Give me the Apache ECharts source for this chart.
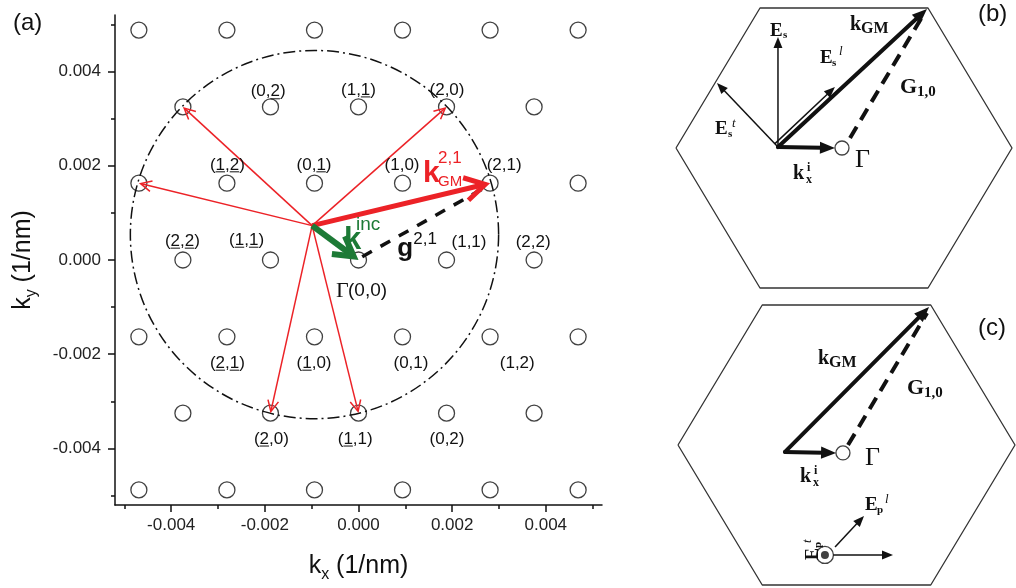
<!DOCTYPE html>
<html>
<head>
<meta charset="utf-8">
<script src="https://cdn.jsdelivr.net/npm/echarts@6/dist/echarts.min.js"></script>
<style>
  html, body { margin: 0; padding: 0; background: #fff; }
  #chart { width: 1016px; height: 588px; }
</style>
</head>
<body>
<div id="chart"></div>
<script>
const FONT = '"Liberation Sans", Arial, sans-serif';
const SERIF = '"Liberation Serif", "Times New Roman", serif';
const RED = '#ec2227';
const GREEN = '#1d7a36';
const INK = '#111';

// ---------- (a) reciprocal lattice, units 1/nm ----------
const xMajorTicks = [-0.004, -0.002, 0, 0.002, 0.004];
const xMinorTicks = [-0.005, -0.003, -0.001, 0.001, 0.003, 0.005];
const yMajorTicks = [-0.004, -0.002, 0, 0.002, 0.004];
const yMinorTicks = [-0.005, -0.003, -0.001, 0.001, 0.003, 0.005];

const latticePoints = [
  [-0.00469, 0.00488], [-0.00281, 0.00488], [-0.00094, 0.00488], [0.00094, 0.00488], [0.00281, 0.00488], [0.00469, 0.00488],
  [-0.00375, 0.00325], [-0.00188, 0.00325], [0, 0.00325], [0.00188, 0.00325], [0.00375, 0.00325],
  [-0.00469, 0.00163], [-0.00281, 0.00163], [-0.00094, 0.00163], [0.00094, 0.00163], [0.00281, 0.00163], [0.00469, 0.00163],
  [-0.00375, 0], [-0.00188, 0], [0, 0], [0.00188, 0], [0.00375, 0],
  [-0.00469, -0.00163], [-0.00281, -0.00163], [-0.00094, -0.00163], [0.00094, -0.00163], [0.00281, -0.00163], [0.00469, -0.00163],
  [-0.00375, -0.00325], [-0.00188, -0.00325], [0, -0.00325], [0.00188, -0.00325], [0.00375, -0.00325],
  [-0.00469, -0.00488], [-0.00281, -0.00488], [-0.00094, -0.00488], [0.00094, -0.00488], [0.00281, -0.00488], [0.00469, -0.00488]
];

// lattice index labels: [kx, ky, text]; U+0332 underlines the preceding digit (negative index)
const indexLabels = [
  [-0.00193, 0.00357, '(0,2\u0332)'],
  [0, 0.00361, '(1,1\u0332)'],
  [0.00189, 0.00361, '(2,0)'],
  [-0.00280, 0.00202, '(1\u0332,2\u0332)'],
  [-0.00095, 0.00202, '(0,1\u0332)'],
  [0.00093, 0.00202, '(1,0)'],
  [0.00311, 0.00202, '(2,1)'],
  [-0.00376, 0.00040, '(2\u0332,2\u0332)'],
  [-0.00239, 0.00042, '(1\u0332,1\u0332)'],
  [0.00236, 0.00038, '(1,1)'],
  [0.00373, 0.00038, '(2,2)'],
  [-0.00280, -0.00219, '(2\u0332,1\u0332)'],
  [-0.00095, -0.00219, '(1\u0332,0)'],
  [0.00112, -0.00219, '(0,1)'],
  [0.00339, -0.00219, '(1,2)'],
  [-0.00186, -0.00380, '(2\u0332,0)'],
  [-0.00007, -0.00380, '(1\u0332,1)'],
  [0.00189, -0.00380, '(0,2)']
];

const incidentTail = [-0.00099, 0.00073];
const gammaPoint = [0, 0];
const diffractedTips = [
  [-0.00469, 0.00163], [-0.00375, 0.00325], [0.00188, 0.00325],
  [-0.00188, -0.00325], [0, -0.00325]
];
const kgmTip = [0.00281, 0.00163];
const g21Line = [0.00008, 0.00007, 0.00274, 0.00156];
const ewaldCenter = [-0.00094, 0.00054];
const ewaldRadius = 0.00392;

const mainNotes = [
  ['kInc', -0.00031, 0.00041],
  ['kGM21', 0.00138, 0.00183],
  ['g21', 0.00083, 0.00024],
  ['gamma00', -0.00048, -0.00066]
];

// ---------- (b), (c) Brillouin-zone sketches, hexagon half-width = 1 ----------
const hexagon = [[-1, 0], [-0.5, 0.866], [0.5, 0.866], [1, 0], [0.5, -0.866], [-0.5, -0.866], [-1, 0]];

const gammaB = [-0.012, 0];
const thickArrowsB = [[-0.393, 0.006, 0.494, 0.86], [-0.393, 0.006, -0.054, 0.0]];
const thinArrowsB = [[-0.393, 0.006, -0.393, 0.686], [-0.393, 0.006, -0.756, 0.402], [-0.411, 0.027, -0.054, 0.377]];
const dashB = [[0.036, 0.062, 0.482, 0.841]];
const notesB = [
  ['Es', -0.44, 0.724], ['kGM', 0.036, 0.761], ['Esl', -0.143, 0.557], ['G10', 0.333, 0.377],
  ['Est', -0.768, 0.114], ['Gamma', 0.065, -0.074], ['kix', -0.304, -0.158]
];

const gammaC = [-0.021, -0.049];
const polDotC = [-0.128, -0.680];
const thickArrowsC = [[-0.365, -0.043, 0.49, 0.853], [-0.365, -0.043, -0.062, -0.049]];
const thinArrowsC = [[-0.080, -0.680, 0.276, -0.680], [-0.068, -0.631, 0.104, -0.439]];
const dashC = [[0.009, 0.0, 0.478, 0.816]];
const notesC = [
  ['kGM', -0.169, 0.535], ['G10', 0.359, 0.352], ['Gamma', 0.110, -0.080],
  ['kix', -0.276, -0.198], ['Epl', 0.110, -0.374], ['Ept', -0.195, -0.711]
];

// ---------- text styles for annotations ----------
const sansB = (s) => `bold ${s}px ${FONT}`;
const sans = (s) => `${s}px ${FONT}`;
const serB = (s) => `bold ${s}px ${SERIF}`;
const serI = (s) => `italic ${s}px ${SERIF}`;
const ser = (s) => `${s}px ${SERIF}`;

const NOTE_STYLES = {
  kInc: { parts: [
    { t: 'k', font: sansB(31), fill: GREEN },
    { t: 'inc', font: sans(19), fill: GREEN, dx: 12, dy: -16 }] },
  kGM21: { parts: [
    { t: 'k', font: sansB(30), fill: RED },
    { t: '2,1', font: sans(17), fill: RED, dx: 15, dy: -15 },
    { t: 'GM', font: sans(15), fill: RED, dx: 15, dy: 8 }] },
  g21: { parts: [
    { t: 'g', font: sansB(26) },
    { t: '2,1', font: sans(17), dx: 16, dy: -9 }] },
  gamma00: { parts: [
    { t: 'Γ', font: ser(22) },
    { t: '(0,0)', font: sans(19), dx: 12 }] },
  Es: { parts: [
    { t: 'E', font: serB(19) },
    { t: 's', font: serB(11), dx: 13, dy: 4 }] },
  kGM: { parts: [
    { t: 'k', font: serB(20) },
    { t: 'GM', font: serB(16), dx: 11, dy: 4 }] },
  Esl: { parts: [
    { t: 'E', font: serB(19) },
    { t: 's', font: serB(11), dx: 12, dy: 5 },
    { t: 'l', font: serI(13), dx: 19, dy: -6 }] },
  G10: { parts: [
    { t: 'G', font: serB(22) },
    { t: '1,0', font: serB(15), dx: 17, dy: 5 }] },
  Est: { parts: [
    { t: 'E', font: serB(19) },
    { t: 's', font: serB(11), dx: 13, dy: 5 },
    { t: 't', font: serI(13), dx: 17, dy: -6 }] },
  Gamma: { parts: [{ t: 'Γ', font: ser(26) }] },
  kix: { parts: [
    { t: 'k', font: serB(20) },
    { t: 'i', font: serB(12), dx: 14, dy: -6 },
    { t: 'x', font: serB(12), dx: 13, dy: 6 }] },
  Epl: { parts: [
    { t: 'E', font: serB(19) },
    { t: 'p', font: serB(11), dx: 12, dy: 5 },
    { t: 'l', font: serI(13), dx: 20, dy: -6 }] },
  Ept: { rotate: Math.PI / 2, parts: [
    { t: 'E', font: serB(18) },
    { t: 'p', font: serB(11), dx: 12, dy: 5 },
    { t: 't', font: serI(13), dx: 17, dy: -6 }] }
};

// ---------- drawing helpers ----------
const measureCtx = document.createElement('canvas').getContext('2d');
function textWidth(t, font) { measureCtx.font = font; return measureCtx.measureText(t).width; }

function arrowShape(a, b, st) {
  const dx = b[0] - a[0], dy = b[1] - a[1];
  const L = Math.hypot(dx, dy) || 1, ux = dx / L, uy = dy / L;
  const children = [];
  if (!st.head) {
    children.push({ type: 'line', shape: { x1: a[0], y1: a[1], x2: b[0], y2: b[1] },
      style: { stroke: st.color, lineWidth: st.width, lineDash: st.dash || null, lineCap: 'butt' } });
    return { type: 'group', children };
  }
  const sp = st.spread * Math.PI / 180;
  let tip = b;
  if (st.open) {
    const back = (st.width / 2) / Math.sin(sp);
    tip = [b[0] - ux * back, b[1] - uy * back];
  }
  const bx = tip[0] - ux * st.head, by = tip[1] - uy * st.head;
  const w = st.head * Math.tan(sp);
  const left = [bx - uy * w, by + ux * w], right = [bx + uy * w, by - ux * w];
  const shaftEnd = st.open ? [tip[0] - ux * st.width * 0.6, tip[1] - uy * st.width * 0.6]
                           : [bx + ux * 2, by + uy * 2];
  children.push({ type: 'line', shape: { x1: a[0], y1: a[1], x2: shaftEnd[0], y2: shaftEnd[1] },
    style: { stroke: st.color, lineWidth: st.width, lineCap: st.cap || 'butt' } });
  if (st.open) {
    children.push({ type: 'polyline', shape: { points: [left, tip, right] },
      style: { stroke: st.color, lineWidth: st.width, lineJoin: 'miter', miterLimit: 10, lineCap: 'butt', fill: null } });
  } else {
    children.push({ type: 'polygon', shape: { points: [left, b, right] }, style: { fill: st.color } });
  }
  return { type: 'group', children };
}

function segmentSeries(segs, st, axis, z) {
  return {
    type: 'custom', coordinateSystem: 'cartesian2d', xAxisIndex: axis, yAxisIndex: axis,
    silent: true, clip: false, z: z || 4, data: segs,
    renderItem(params, api) {
      const a = api.coord([api.value(0), api.value(1)]);
      const b = api.coord([api.value(2), api.value(3)]);
      return arrowShape(a, b, st);
    }
  };
}

function notesSeries(notes, axis) {
  return {
    type: 'custom', coordinateSystem: 'cartesian2d', xAxisIndex: axis, yAxisIndex: axis,
    silent: true, clip: false, z: 6,
    data: notes.map(n => [n[1], n[2]]),
    renderItem(params, api) {
      const spec = NOTE_STYLES[notes[params.dataIndex][0]];
      const p = api.coord([api.value(0), api.value(1)]);
      return {
        type: 'group', x: p[0], y: p[1], rotation: spec.rotate || 0,
        children: spec.parts.map(s => ({
          type: 'text', x: s.dx || 0, y: s.dy || 0,
          style: { text: s.t, font: s.font, fill: s.fill || INK, align: 'left', verticalAlign: 'middle' }
        }))
      };
    }
  };
}

const tickLabelStyle = { fontFamily: FONT, fontSize: 17, color: '#222' };
const axisInk = { color: INK, width: 1.5 };
const hiddenAxis = (grid, min, max) => ({ gridIndex: grid, type: 'value', min, max, show: false });
const nameRich = {
  k: { fontFamily: FONT, fontSize: 25, color: INK },
  s: { fontFamily: FONT, fontSize: 16, color: INK, padding: [18, 0, 0, 0] },
  n: { fontFamily: FONT, fontSize: 25, color: INK }
};

const chart = echarts.init(document.getElementById('chart'), null, { renderer: 'canvas' });

const option = {
  backgroundColor: '#fff',
  animation: false,
  graphic: [
    { type: 'text', left: 13, top: 11, style: { text: '(a)', font: `24px ${FONT}`, fill: INK } },
    { type: 'text', left: 978, top: 2, style: { text: '(b)', font: `24px ${FONT}`, fill: INK } },
    { type: 'text', left: 978, top: 316, style: { text: '(c)', font: `24px ${FONT}`, fill: INK } }
  ],
  grid: [
    { left: 115, top: 15, width: 487, height: 490 },
    { left: 676, top: 8, width: 336, height: 280 },
    { left: 678, top: 305, width: 337, height: 280 }
  ],
  xAxis: [
    {
      gridIndex: 0, type: 'value', min: -0.0052, max: 0.0052, position: 'bottom',
      axisLine: { show: true, onZero: false, lineStyle: axisInk },
      axisTick: { show: true, length: 7, customValues: xMajorTicks, lineStyle: axisInk },
      axisLabel: { customValues: xMajorTicks, formatter: v => v.toFixed(3), margin: 12, ...tickLabelStyle },
      splitLine: { show: false },
      name: '{k|k}{s|x}{n| (1/nm)}', nameLocation: 'middle', nameGap: 44,
      nameTextStyle: { fontFamily: FONT, fontSize: 25, color: INK, rich: nameRich }
    },
    {
      gridIndex: 0, type: 'value', min: -0.0052, max: 0.0052, position: 'bottom',
      axisLine: { show: false, onZero: false },
      axisTick: { show: true, length: 4, customValues: xMinorTicks, lineStyle: axisInk },
      axisLabel: { show: false }, splitLine: { show: false }
    },
    hiddenAxis(1, -1, 1),
    hiddenAxis(2, -1, 1)
  ],
  yAxis: [
    {
      gridIndex: 0, type: 'value', min: -0.0052, max: 0.0052, position: 'left',
      axisLine: { show: true, onZero: false, lineStyle: axisInk },
      axisTick: { show: true, length: 7, customValues: yMajorTicks, lineStyle: axisInk },
      axisLabel: { customValues: yMajorTicks, formatter: v => v.toFixed(3), margin: 14, ...tickLabelStyle },
      splitLine: { show: false },
      name: '{k|k}{s|y}{n| (1/nm)}', nameLocation: 'middle', nameGap: 75,
      nameTextStyle: { fontFamily: FONT, fontSize: 25, color: INK, rich: nameRich }
    },
    {
      gridIndex: 0, type: 'value', min: -0.0052, max: 0.0052, position: 'left',
      axisLine: { show: false, onZero: false },
      axisTick: { show: true, length: 4, customValues: yMinorTicks, lineStyle: axisInk },
      axisLabel: { show: false }, splitLine: { show: false }
    },
    hiddenAxis(1, -0.866, 0.866),
    hiddenAxis(2, -0.866, 0.866)
  ],
  series: [
    // (a) lattice sites
    {
      type: 'scatter', xAxisIndex: 0, yAxisIndex: 0, data: latticePoints, z: 2, silent: true,
      symbol: 'circle', symbolSize: 16,
      itemStyle: { color: 'rgba(0,0,0,0)', borderColor: INK, borderWidth: 1.3 }
    },
    // (a) Ewald circle
    {
      type: 'custom', coordinateSystem: 'cartesian2d', xAxisIndex: 0, yAxisIndex: 0,
      silent: true, clip: false, z: 3, data: [[ewaldCenter[0], ewaldCenter[1], ewaldRadius]],
      renderItem(params, api) {
        const c = api.coord([api.value(0), api.value(1)]);
        const s = api.size([api.value(2), api.value(2)]);
        return { type: 'circle', shape: { cx: c[0], cy: c[1], r: (s[0] + s[1]) / 2 },
          style: { fill: null, stroke: INK, lineWidth: 1.5, lineDash: [12, 4, 2, 4] } };
      }
    },
    // (a) reciprocal vector g(2,1)
    segmentSeries([g21Line], { color: INK, width: 3.5, head: 0, dash: [11, 10] }, 0, 4),
    // (a) diffracted wave vectors
    segmentSeries(diffractedTips.map(t => [incidentTail[0], incidentTail[1], t[0], t[1]]),
      { color: RED, width: 1.5, head: 11, spread: 26, open: true }, 0, 4),
    segmentSeries([[incidentTail[0], incidentTail[1], kgmTip[0], kgmTip[1]]],
      { color: RED, width: 5, head: 20, spread: 30, open: true }, 0, 5),
    // (a) incident wave vector
    segmentSeries([[incidentTail[0], incidentTail[1], gammaPoint[0], gammaPoint[1]]],
      { color: GREEN, width: 6, head: 19, spread: 30, open: true }, 0, 5),
    // (a) index labels
    {
      type: 'custom', coordinateSystem: 'cartesian2d', xAxisIndex: 0, yAxisIndex: 0,
      silent: true, clip: false, z: 6, data: indexLabels.map(d => [d[0], d[1]]),
      renderItem(params, api) {
        const p = api.coord([api.value(0), api.value(1)]);
        const raw = indexLabels[params.dataIndex][2];
        let plain = '';
        const marks = [];
        for (const ch of raw) {
          if (ch === '\u0332') marks.push(plain.length - 1); else plain += ch;
        }
        const font = `17px ${FONT}`;
        const x0 = p[0] - textWidth(plain, font) / 2;
        const children = [{ type: 'text', x: p[0], y: p[1],
          style: { text: plain, font, fill: INK, align: 'center', verticalAlign: 'middle' } }];
        marks.forEach(i => {
          const a = x0 + textWidth(plain.slice(0, i), font);
          const b = a + textWidth(plain[i], font);
          children.push({ type: 'line', shape: { x1: a, y1: p[1] + 7, x2: b, y2: p[1] + 7 },
            style: { stroke: INK, lineWidth: 1 } });
        });
        return { type: 'group', children };
      }
    },
    notesSeries(mainNotes, 0),

    // (b) zone boundary and vectors
    { type: 'line', xAxisIndex: 2, yAxisIndex: 2, data: hexagon, symbol: 'none', clip: false, silent: true,
      lineStyle: { color: '#333', width: 1.3 }, z: 2 },
    segmentSeries(dashB, { color: INK, width: 4, head: 0, dash: [13, 8] }, 2, 3),
    segmentSeries(thickArrowsB, { color: INK, width: 4, head: 15, spread: 22, open: false, cap: 'round' }, 2, 4),
    segmentSeries(thinArrowsB, { color: INK, width: 1.5, head: 11, spread: 22, open: false }, 2, 4),
    { type: 'scatter', xAxisIndex: 2, yAxisIndex: 2, data: [gammaB], symbol: 'circle', symbolSize: 14, silent: true, z: 5,
      itemStyle: { color: '#fff', borderColor: INK, borderWidth: 1.3 } },
    notesSeries(notesB, 2),

    // (c) zone boundary and vectors
    { type: 'line', xAxisIndex: 3, yAxisIndex: 3, data: hexagon, symbol: 'none', clip: false, silent: true,
      lineStyle: { color: '#333', width: 1.3 }, z: 2 },
    segmentSeries(dashC, { color: INK, width: 4, head: 0, dash: [13, 8] }, 3, 3),
    segmentSeries(thickArrowsC, { color: INK, width: 4, head: 15, spread: 22, open: false, cap: 'round' }, 3, 4),
    segmentSeries(thinArrowsC, { color: INK, width: 1.5, head: 11, spread: 22, open: false }, 3, 4),
    { type: 'scatter', xAxisIndex: 3, yAxisIndex: 3, data: [gammaC], symbol: 'circle', symbolSize: 14, silent: true, z: 5,
      itemStyle: { color: '#fff', borderColor: INK, borderWidth: 1.3 } },
    { type: 'scatter', xAxisIndex: 3, yAxisIndex: 3, data: [polDotC], symbol: 'circle', symbolSize: 17, silent: true, z: 5,
      itemStyle: { color: '#fff', borderColor: INK, borderWidth: 1.3 } },
    { type: 'scatter', xAxisIndex: 3, yAxisIndex: 3, data: [polDotC], symbol: 'circle', symbolSize: 8, silent: true, z: 6,
      itemStyle: { color: INK } },
    notesSeries(notesC, 3)
  ]
};

chart.setOption(option);
</script>
</body>
</html>
